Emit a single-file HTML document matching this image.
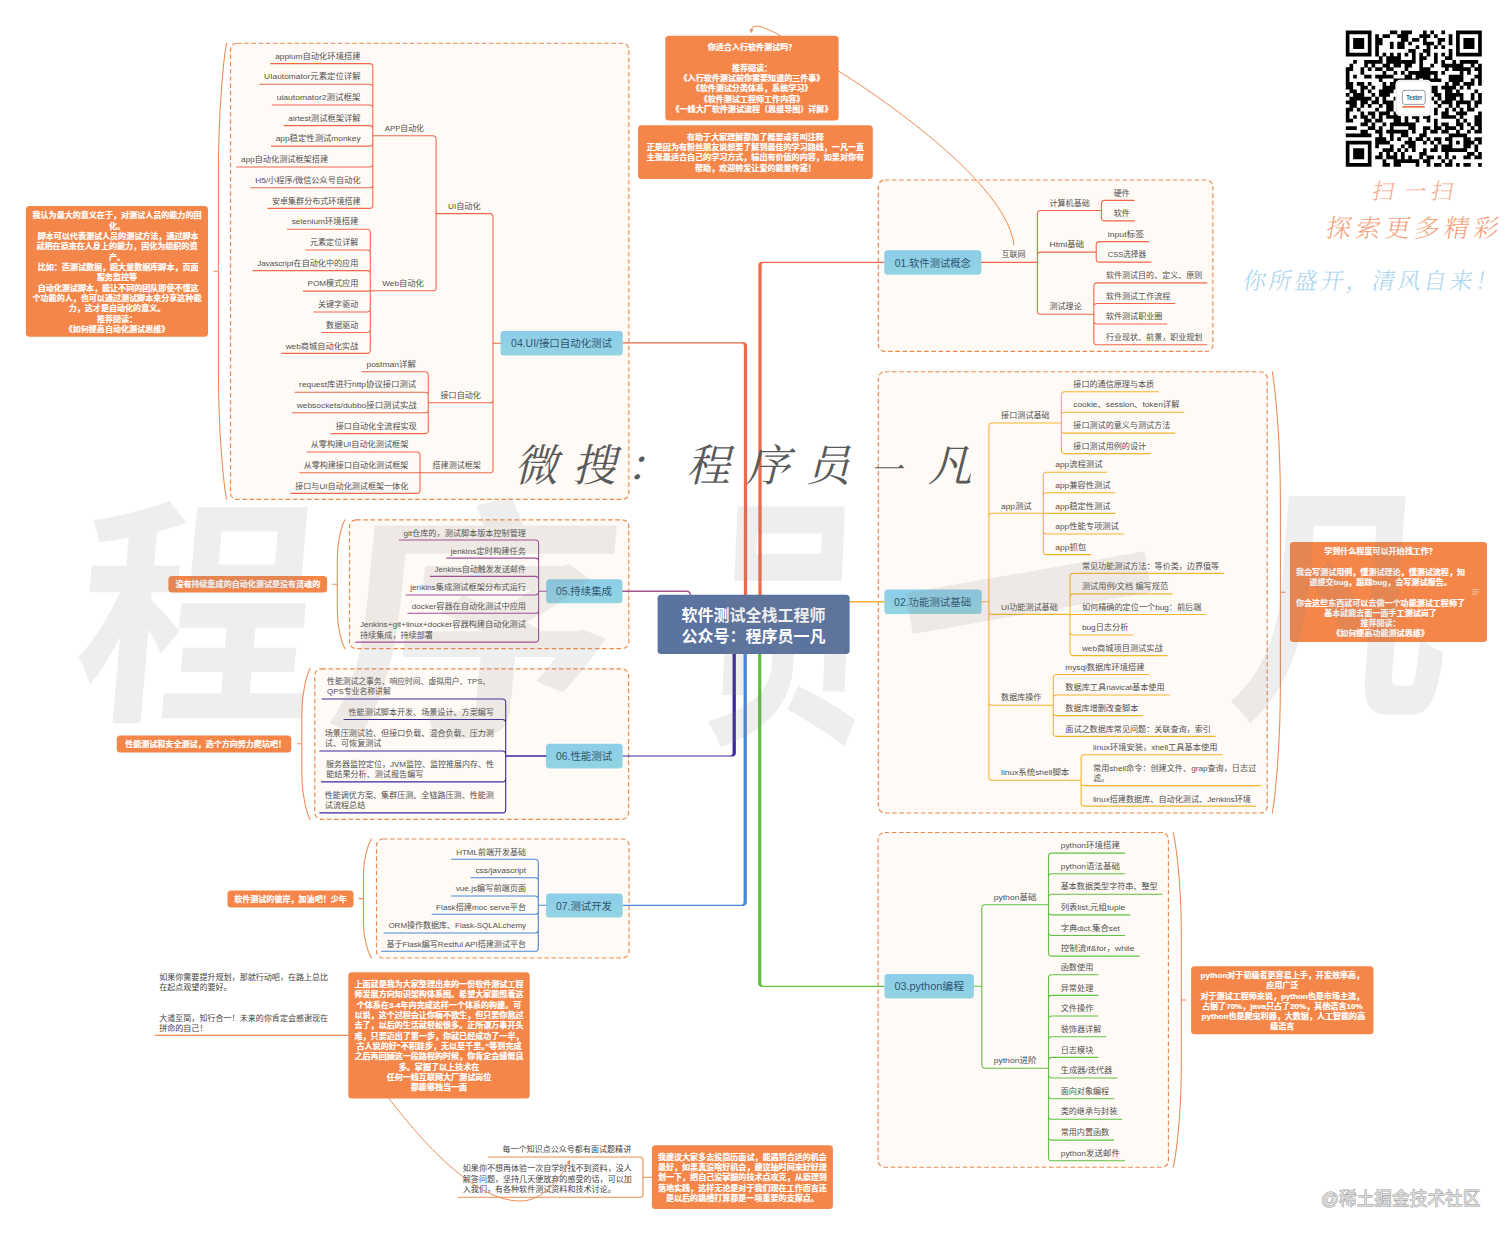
<!DOCTYPE html>
<html lang="zh-CN">
<head>
<meta charset="utf-8">
<title>软件测试全栈工程师 思维导图</title>
<style>
html,body{margin:0;padding:0;background:#fff;}
body{width:1512px;height:1240px;overflow:hidden;}
svg{display:block;font-family:"Liberation Sans","Noto Sans CJK SC",sans-serif;}
text{white-space:pre;}
</style>
</head>
<body>
<svg width="1512" height="1240" viewBox="0 0 1512 1240" font-size="8.1" fill="#505050" stroke-linecap="round" stroke-linejoin="round">
<defs><linearGradient id="tb" x1="0" y1="0" x2="0" y2="1"><stop offset="0" stop-color="#8ccde9"/><stop offset="1" stop-color="#93d4e2"/></linearGradient></defs>
<rect width="1512" height="1240" fill="#fff"/>
<rect x="230.5" y="43.2" width="398.4" height="456.2" rx="6.5" fill="#fffaf5" stroke="#e98a4e" stroke-width="1.15" stroke-dasharray="4.6 2.6" stroke-linecap="butt"/>
<rect x="878.3" y="180.0" width="334.6" height="171.4" rx="6.5" fill="#fffaf5" stroke="#e98a4e" stroke-width="1.15" stroke-dasharray="4.6 2.6" stroke-linecap="butt"/>
<rect x="878.3" y="371.7" width="388.9" height="441.3" rx="6.5" fill="#fffaf5" stroke="#e98a4e" stroke-width="1.15" stroke-dasharray="4.6 2.6" stroke-linecap="butt"/>
<rect x="878.1" y="832.5" width="290.3" height="334.7" rx="6.5" fill="#fffaf5" stroke="#e98a4e" stroke-width="1.15" stroke-dasharray="4.6 2.6" stroke-linecap="butt"/>
<rect x="349.5" y="519.8" width="279.3" height="128.8" rx="6.5" fill="#fffaf5" stroke="#e98a4e" stroke-width="1.15" stroke-dasharray="4.6 2.6" stroke-linecap="butt"/>
<rect x="314.8" y="668.8" width="313.8" height="150.5" rx="6.5" fill="#fffaf5" stroke="#e98a4e" stroke-width="1.15" stroke-dasharray="4.6 2.6" stroke-linecap="butt"/>
<rect x="376.5" y="839.0" width="252.6" height="119.0" rx="6.5" fill="#fffaf5" stroke="#e98a4e" stroke-width="1.15" stroke-dasharray="4.6 2.6" stroke-linecap="butt"/>
<path d="M226.5 43.2C223.7 58.8 218.4 108.2 218.4 173.2V369.4C218.4 434.4 223.7 483.8 226.5 499.4M218.4 271.3h-4.5" stroke="#ee8d55" stroke-width="1.1" fill="none"/>
<path d="M1272.3 371.7C1275.1 387.3 1280.4 436.7 1280.4 501.7V683.0C1280.4 748.0 1275.1 797.4 1272.3 813.0M1280.4 592.2h4.5" stroke="#ee8d55" stroke-width="1.1" fill="none"/>
<path d="M1173.2 832.5C1176.0 844.5 1181.3 882.7 1181.3 932.9V1066.8C1181.3 1117.0 1176.0 1155.2 1173.2 1167.2M1181.3 1000.0h4.5" stroke="#ee8d55" stroke-width="1.1" fill="none"/>
<path d="M345.0 519.8C342.3 524.4 337.3 539.1 337.3 558.4V610.0C337.3 629.3 342.3 644.0 345.0 648.6M337.3 584.2h-4.5" stroke="#ee8d55" stroke-width="1.1" fill="none"/>
<path d="M310.0 668.8C307.1 674.2 301.8 691.4 301.8 713.9V774.1C301.8 796.7 307.1 813.9 310.0 819.3M301.8 743.8h-4.5" stroke="#ee8d55" stroke-width="1.1" fill="none"/>
<path d="M371.5 839.0C368.7 843.3 363.4 856.9 363.4 874.7V922.3C363.4 940.1 368.7 953.7 371.5 958.0M363.4 898.6h-4.5" stroke="#ee8d55" stroke-width="1.1" fill="none"/>
<path d="M758.35 596.0L758.35 265.60Q758.35 261.78 762.15 261.78L884.4 261.78L884.4 263.02L763.85 263.02Q761.65 263.02 761.65 265.20L761.65 596.0Z" fill="#f1694c"/>
<path d="M747.15 596.0L747.15 346.00Q747.15 342.18 743.35 342.18L622.8 342.18L622.8 343.42L741.65 343.42Q743.85 343.42 743.85 345.60L743.85 596.0Z" fill="#f1694c"/>
<path d="M735.85 653.0L735.85 752.80Q735.85 756.62 732.05 756.62L622.6 756.62L622.6 755.38L730.35 755.38Q732.55 755.38 732.55 753.20L732.55 653.0Z" fill="#3b2a9e"/>
<path d="M746.85 653.0L746.85 902.10Q746.85 905.92 743.05 905.92L622.7 905.92L622.7 904.68L741.35 904.68Q743.55 904.68 743.55 902.50L743.55 653.0Z" fill="#4a86d6"/>
<path d="M758.05 653.0L758.05 983.10Q758.05 986.92 761.85 986.92L884.5 986.92L884.5 985.68L763.55 985.68Q761.35 985.68 761.35 983.50L761.35 653.0Z" fill="#5fc140"/>
<path d="M622.4 591.3H686.5Q690.5 591.3 690.5 596" stroke="#a2558f" stroke-width="1.4" fill="none"/>
<path d="M849.0 601.7H884.4" stroke="#f6b52f" stroke-width="1.5" fill="none"/>
<rect x="657.6" y="594.8" width="192" height="59.3" rx="3.5" fill="#5a739f"/>
<g font-weight="bold" fill="#fff" text-anchor="middle" font-size="16"><text x="753.4" y="620.9">软件测试全栈工程师</text><text x="753.4" y="641.5">公众号：程序员一凡</text></g>
<rect x="500.5" y="331.1" width="122.3" height="24.5" rx="3.5" fill="url(#tb)"/><text x="511.1" y="347.4" font-size="10.6" fill="#2f5672" textLength="100.9" lengthAdjust="spacingAndGlyphs">04.UI/接口自动化测试</text>
<text x="275.2" y="58.7" textLength="85.4" lengthAdjust="spacingAndGlyphs">appium自动化环境搭建</text>
<text x="264.1" y="79.3" textLength="96.5" lengthAdjust="spacingAndGlyphs">UIautomator元素定位详解</text>
<text x="276.7" y="100.1" textLength="83.9" lengthAdjust="spacingAndGlyphs">uiautomator2测试框架</text>
<text x="288.3" y="120.7" textLength="72.3" lengthAdjust="spacingAndGlyphs">airtest测试框架详解</text>
<text x="275.7" y="141.2" textLength="84.9" lengthAdjust="spacingAndGlyphs">app稳定性测试monkey</text>
<text x="241.1" y="162.1" textLength="87.0" lengthAdjust="spacingAndGlyphs">app自动化测试框架搭建</text>
<text x="255.3" y="182.9" textLength="105.3" lengthAdjust="spacingAndGlyphs">H5/小程序/微信公众号自动化</text>
<text x="271.9" y="203.5" textLength="88.7" lengthAdjust="spacingAndGlyphs">安卓集群分布式环境搭建</text>
<path d="M270.5 63.6H369.4Q372.8 63.6 372.8 67.0V135.8M259.7 84.2H369.4Q372.8 84.2 372.8 87.6V135.8M272.2 105.0H369.4Q372.8 105.0 372.8 108.4V135.8M283.9 125.6H369.4Q372.8 125.6 372.8 129.0V135.8M271.4 146.1H369.4Q372.8 146.1 372.8 142.7V135.8M236.7 167.0H369.4Q372.8 167.0 372.8 163.6V135.8M251.0 187.8H369.4Q372.8 187.8 372.8 184.4V135.8M267.8 208.4H369.4Q372.8 208.4 372.8 205.0V135.8" stroke="#f1694c" stroke-width="1.1" fill="none"/>
<text x="291.7" y="224.3" textLength="66.6" lengthAdjust="spacingAndGlyphs">selenium环境搭建</text>
<text x="310.0" y="245.1" textLength="48.3" lengthAdjust="spacingAndGlyphs">元素定位详解</text>
<text x="257.2" y="265.7" textLength="101.1" lengthAdjust="spacingAndGlyphs">Javascript在自动化中的应用</text>
<text x="307.5" y="286.2" textLength="50.8" lengthAdjust="spacingAndGlyphs">POM模式应用</text>
<text x="318.0" y="307.1" textLength="40.3" lengthAdjust="spacingAndGlyphs">关键字驱动</text>
<text x="326.1" y="327.6" textLength="32.2" lengthAdjust="spacingAndGlyphs">数据驱动</text>
<text x="285.7" y="348.5" textLength="72.6" lengthAdjust="spacingAndGlyphs">web商城自动化实战</text>
<path d="M287.5 229.2H366.9Q370.3 229.2 370.3 232.6V290.8M305.8 250.0H366.9Q370.3 250.0 370.3 253.4V290.8M253.0 270.6H366.9Q370.3 270.6 370.3 274.0V290.8M303.3 291.1H370.3M313.9 312.0H366.9Q370.3 312.0 370.3 308.6V290.8M322.0 332.5H366.9Q370.3 332.5 370.3 329.1V290.8M281.7 353.4H366.9Q370.3 353.4 370.3 350.0V290.8" stroke="#f1694c" stroke-width="1.1" fill="none"/>
<text x="366.4" y="366.8" textLength="49.7" lengthAdjust="spacingAndGlyphs">postman详解</text>
<text x="299.1" y="387.3" textLength="117.0" lengthAdjust="spacingAndGlyphs">request库进行http协议接口测试</text>
<text x="296.7" y="407.9" textLength="120.0" lengthAdjust="spacingAndGlyphs">websockets/dubbo接口测试实战</text>
<text x="335.7" y="428.7" textLength="81.0" lengthAdjust="spacingAndGlyphs">接口自动化全流程实现</text>
<path d="M362.2 371.7H424.9Q428.3 371.7 428.3 375.1V402.8M295.0 392.2H424.9Q428.3 392.2 428.3 395.6V402.8M292.5 412.8H424.9Q428.3 412.8 428.3 409.4V402.8M331.0 433.6H424.9Q428.3 433.6 428.3 430.2V402.8" stroke="#f1694c" stroke-width="1.1" fill="none"/>
<text x="310.7" y="447.1" textLength="97.6" lengthAdjust="spacingAndGlyphs">从零构建UI自动化测试框架</text>
<text x="303.7" y="467.9" textLength="104.6" lengthAdjust="spacingAndGlyphs">从零构建接口自动化测试框架</text>
<text x="295.2" y="488.5" textLength="113.1" lengthAdjust="spacingAndGlyphs">接口与UI自动化测试框架一体化</text>
<path d="M307.0 452.0H416.6Q420.0 452.0 420.0 455.4V472.8M299.7 472.8H420.0M290.8 493.4H416.6Q420.0 493.4 420.0 490.0V472.8" stroke="#f1694c" stroke-width="1.1" fill="none"/>
<text x="384.7" y="130.7" textLength="39.2" lengthAdjust="spacingAndGlyphs">APP自动化</text>
<text x="382.2" y="285.9" textLength="41.7" lengthAdjust="spacingAndGlyphs">Web自动化</text>
<text x="448.0" y="208.5" textLength="32.6" lengthAdjust="spacingAndGlyphs">UI自动化</text>
<text x="440.5" y="397.9" textLength="40.4" lengthAdjust="spacingAndGlyphs">接口自动化</text>
<text x="432.5" y="467.9" textLength="48.4" lengthAdjust="spacingAndGlyphs">搭建测试框架</text>
<path d="M372.8 135.8H432.7Q436.1 135.8 436.1 139.2V213.6M370.3 290.8H432.7Q436.1 290.8 436.1 287.4V213.6" stroke="#f1694c" stroke-width="1.1" fill="none"/>
<path d="M436.1 213.6H489.6Q493.0 213.6 493.0 217.0V343.3M428.3 402.8H489.6Q493.0 402.8 493.0 399.4V343.3M420.0 472.8H489.6Q493.0 472.8 493.0 469.4V343.3" stroke="#f1694c" stroke-width="1.1" fill="none"/>
<path d="M493.0 343.3H500.5" stroke="#f1694c" stroke-width="1.1" fill="none"/>
<rect x="884.3" y="250.2" width="97.1" height="24.6" rx="3.5" fill="url(#tb)"/><text x="894.7" y="266.5" font-size="10.6" fill="#2f5672" textLength="76.2" lengthAdjust="spacingAndGlyphs">01.软件测试概念</text>
<text x="1001.4" y="257.4" textLength="24.1" lengthAdjust="spacingAndGlyphs">互联网</text>
<path d="M981.4 262.4H1037.4" stroke="#f1694c" stroke-width="1.1" fill="none"/>
<text x="1049.5" y="205.5" textLength="40.3" lengthAdjust="spacingAndGlyphs">计算机基础</text>
<text x="1049.5" y="246.8" textLength="34.6" lengthAdjust="spacingAndGlyphs">Html基础</text>
<text x="1049.5" y="309.3" textLength="32.2" lengthAdjust="spacingAndGlyphs">测试理论</text>
<path d="M1101.4 210.5H1040.8Q1037.4 210.5 1037.4 213.9V262.4M1096.2 252.1H1040.8Q1037.4 252.1 1037.4 255.5V262.4M1093.8 314.3H1040.8Q1037.4 314.3 1037.4 310.9V262.4" stroke="#f1694c" stroke-width="1.1" fill="none"/>
<text x="1113.7" y="195.5" textLength="16.1" lengthAdjust="spacingAndGlyphs">硬件</text>
<text x="1113.7" y="216.0" textLength="16.1" lengthAdjust="spacingAndGlyphs">软件</text>
<path d="M1134.3 200.4H1104.8Q1101.4 200.4 1101.4 203.8V210.5M1134.3 220.9H1104.8Q1101.4 220.9 1101.4 217.5V210.5" stroke="#f1694c" stroke-width="1.1" fill="none"/>
<text x="1107.7" y="236.7" textLength="36.4" lengthAdjust="spacingAndGlyphs">input标签</text>
<text x="1107.7" y="257.2" textLength="38.3" lengthAdjust="spacingAndGlyphs">CSS选择器</text>
<path d="M1148.6 241.6H1099.6Q1096.2 241.6 1096.2 245.0V252.1M1151.0 262.1H1099.6Q1096.2 262.1 1096.2 258.7V252.1" stroke="#f1694c" stroke-width="1.1" fill="none"/>
<text x="1105.9" y="278.0" textLength="96.5" lengthAdjust="spacingAndGlyphs">软件测试目的、定义、原则</text>
<text x="1105.9" y="298.6" textLength="64.4" lengthAdjust="spacingAndGlyphs">软件测试工作流程</text>
<text x="1105.9" y="319.1" textLength="56.5" lengthAdjust="spacingAndGlyphs">软件测试职业圈</text>
<text x="1105.9" y="339.9" textLength="96.5" lengthAdjust="spacingAndGlyphs">行业现状、前景，职业规划</text>
<path d="M1206.9 282.9H1097.2Q1093.8 282.9 1093.8 286.3V314.3M1174.8 303.5H1097.2Q1093.8 303.5 1093.8 306.9V314.3M1166.9 324.0H1097.2Q1093.8 324.0 1093.8 320.6V314.3M1206.9 344.8H1097.2Q1093.8 344.8 1093.8 341.4V314.3" stroke="#f1694c" stroke-width="1.1" fill="none"/>
<rect x="884.4" y="589.4" width="97.3" height="24.5" rx="3.5" fill="url(#tb)"/><text x="894.1" y="605.7" font-size="10.6" fill="#2f5672" textLength="77.0" lengthAdjust="spacingAndGlyphs">02.功能测试基础</text>
<path d="M981.7 601.7H988.9" stroke="#f6b52f" stroke-width="1.1" fill="none"/>
<text x="1001.1" y="417.6" textLength="48.6" lengthAdjust="spacingAndGlyphs">接口测试基础</text>
<text x="1001.1" y="508.5" textLength="30.6" lengthAdjust="spacingAndGlyphs">app测试</text>
<text x="1001.1" y="609.6" textLength="56.7" lengthAdjust="spacingAndGlyphs">UI功能测试基础</text>
<text x="1001.1" y="700.4" textLength="40.3" lengthAdjust="spacingAndGlyphs">数据库操作</text>
<text x="1001.1" y="775.4" textLength="68.1" lengthAdjust="spacingAndGlyphs">linux系统shell脚本</text>
<path d="M1061.4 423.0H992.3Q988.9 423.0 988.9 426.4V601.7M1043.3 513.3H992.3Q988.9 513.3 988.9 516.7V601.7M1070.0 614.4H992.3Q988.9 614.4 988.9 611.0V601.7M1053.3 705.3H992.3Q988.9 705.3 988.9 701.9V601.7M1081.1 780.3H992.3Q988.9 780.3 988.9 776.9V601.7" stroke="#f6b52f" stroke-width="1.1" fill="none"/>
<text x="1073.3" y="386.8" textLength="80.9" lengthAdjust="spacingAndGlyphs">接口的通信原理与本质</text>
<text x="1073.3" y="407.3" textLength="106.2" lengthAdjust="spacingAndGlyphs">cookie、session、token详解</text>
<text x="1073.3" y="428.2" textLength="97.0" lengthAdjust="spacingAndGlyphs">接口测试的意义与测试方法</text>
<text x="1073.3" y="448.7" textLength="72.8" lengthAdjust="spacingAndGlyphs">接口测试用例的设计</text>
<path d="M1158.3 391.7H1064.8Q1061.4 391.7 1061.4 395.1V423.0M1183.9 412.2H1064.8Q1061.4 412.2 1061.4 415.6V423.0M1174.7 433.1H1064.8Q1061.4 433.1 1061.4 429.7V423.0M1150.6 453.6H1064.8Q1061.4 453.6 1061.4 450.2V423.0" stroke="#f6b52f" stroke-width="1.1" fill="none"/>
<text x="1055.3" y="467.3" textLength="47.2" lengthAdjust="spacingAndGlyphs">app流程测试</text>
<text x="1055.3" y="487.9" textLength="55.3" lengthAdjust="spacingAndGlyphs">app兼容性测试</text>
<text x="1055.3" y="508.5" textLength="55.3" lengthAdjust="spacingAndGlyphs">app稳定性测试</text>
<text x="1055.3" y="529.1" textLength="63.6" lengthAdjust="spacingAndGlyphs">app性能专项测试</text>
<text x="1055.3" y="549.7" textLength="31.0" lengthAdjust="spacingAndGlyphs">app抓包</text>
<path d="M1106.7 472.2H1046.7Q1043.3 472.2 1043.3 475.6V513.3M1115.0 492.8H1046.7Q1043.3 492.8 1043.3 496.2V513.3M1115.0 513.4H1043.3M1123.3 534.0H1046.7Q1043.3 534.0 1043.3 530.6V513.3M1090.8 554.6H1046.7Q1043.3 554.6 1043.3 551.2V513.3" stroke="#f6b52f" stroke-width="1.1" fill="none"/>
<text x="1081.9" y="568.5" textLength="137.3" lengthAdjust="spacingAndGlyphs">常见功能测试方法：等价类，边界值等</text>
<text x="1081.9" y="589.0" textLength="86.2" lengthAdjust="spacingAndGlyphs">测试用例/文档 编写规范</text>
<text x="1081.9" y="609.6" textLength="119.5" lengthAdjust="spacingAndGlyphs">如何精确的定位一个bug：前后端</text>
<text x="1081.9" y="630.1" textLength="46.7" lengthAdjust="spacingAndGlyphs">bug日志分析</text>
<text x="1081.9" y="650.7" textLength="80.9" lengthAdjust="spacingAndGlyphs">web商城项目测试实战</text>
<path d="M1223.6 573.4H1073.4Q1070.0 573.4 1070.0 576.8V614.4M1172.2 593.9H1073.4Q1070.0 593.9 1070.0 597.3V614.4M1205.6 614.5H1070.0M1133.0 635.0H1073.4Q1070.0 635.0 1070.0 631.6V614.4M1167.2 655.6H1073.4Q1070.0 655.6 1070.0 652.2V614.4" stroke="#f6b52f" stroke-width="1.1" fill="none"/>
<text x="1065.3" y="669.6" textLength="79.2" lengthAdjust="spacingAndGlyphs">mysql数据库环境搭建</text>
<text x="1065.3" y="690.1" textLength="99.4" lengthAdjust="spacingAndGlyphs">数据库工具navicat基本使用</text>
<text x="1065.3" y="710.7" textLength="73.0" lengthAdjust="spacingAndGlyphs">数据库增删改查脚本</text>
<text x="1065.3" y="731.5" textLength="145.6" lengthAdjust="spacingAndGlyphs">面试之数据库常见问题：关联查询，索引</text>
<path d="M1148.6 674.5H1056.7Q1053.3 674.5 1053.3 677.9V705.3M1169.4 695.0H1056.7Q1053.3 695.0 1053.3 698.4V705.3M1142.5 715.6H1056.7Q1053.3 715.6 1053.3 712.2V705.3M1215.3 736.4H1056.7Q1053.3 736.4 1053.3 733.0V705.3" stroke="#f6b52f" stroke-width="1.1" fill="none"/>
<text x="1093.0" y="749.9" textLength="124.5" lengthAdjust="spacingAndGlyphs">linux环境安装，xhell工具基本使用</text>
<text x="1093.0" y="770.7" textLength="163.3" lengthAdjust="spacingAndGlyphs">常用shell命令：创建文件、grap查询，日志过</text>
<text x="1093.0" y="780.9">滤。</text>
<text x="1093.0" y="801.5" textLength="157.9" lengthAdjust="spacingAndGlyphs">linux搭建数据库、自动化测试、Jenkins环境</text>
<path d="M1222.2 754.7H1084.5Q1081.1 754.7 1081.1 758.1V780.3M1260.8 785.6H1084.5Q1081.1 785.6 1081.1 782.2V780.3M1255.6 806.1H1084.5Q1081.1 806.1 1081.1 802.7V780.3" stroke="#f6b52f" stroke-width="1.1" fill="none"/>
<rect x="884.5" y="974.1" width="89.4" height="24.4" rx="3.5" fill="url(#tb)"/><text x="894.4" y="990.3" font-size="10.6" fill="#2f5672" textLength="69.7" lengthAdjust="spacingAndGlyphs">03.python编程</text>
<path d="M973.9 986.3H981.8" stroke="#5fc140" stroke-width="1.1" fill="none"/>
<text x="993.7" y="899.9" textLength="42.9" lengthAdjust="spacingAndGlyphs">python基础</text>
<text x="993.7" y="1063.1" textLength="42.9" lengthAdjust="spacingAndGlyphs">python进阶</text>
<path d="M1048.5 904.8H985.2Q981.8 904.8 981.8 908.2V986.3M1048.5 1068.2H985.2Q981.8 1068.2 981.8 1064.8V986.3" stroke="#5fc140" stroke-width="1.1" fill="none"/>
<text x="1060.7" y="848.2" textLength="59.2" lengthAdjust="spacingAndGlyphs">python环境搭建</text>
<text x="1060.7" y="868.8" textLength="59.2" lengthAdjust="spacingAndGlyphs">python语法基础</text>
<text x="1060.7" y="889.4" textLength="97.0" lengthAdjust="spacingAndGlyphs">基本数据类型字符串、整型</text>
<text x="1060.7" y="910.0" textLength="64.5" lengthAdjust="spacingAndGlyphs">列表list,元组tuple</text>
<text x="1060.7" y="930.6" textLength="59.2" lengthAdjust="spacingAndGlyphs">字典dict,集合set</text>
<text x="1060.7" y="951.2" textLength="73.8" lengthAdjust="spacingAndGlyphs">控制流if&amp;for，while</text>
<path d="M1124.6 853.1H1051.9Q1048.5 853.1 1048.5 856.5V904.8M1124.6 873.7H1051.9Q1048.5 873.7 1048.5 877.1V904.8M1162.3 894.3H1051.9Q1048.5 894.3 1048.5 897.7V904.8M1129.8 914.9H1051.9Q1048.5 914.9 1048.5 911.5V904.8M1124.6 935.5H1051.9Q1048.5 935.5 1048.5 932.1V904.8M1139.0 956.1H1051.9Q1048.5 956.1 1048.5 952.7V904.8" stroke="#5fc140" stroke-width="1.1" fill="none"/>
<text x="1060.7" y="969.9" textLength="32.6" lengthAdjust="spacingAndGlyphs">函数使用</text>
<text x="1060.7" y="990.5" textLength="32.6" lengthAdjust="spacingAndGlyphs">异常处理</text>
<text x="1060.7" y="1011.1" textLength="32.6" lengthAdjust="spacingAndGlyphs">文件操作</text>
<text x="1060.7" y="1031.8" textLength="40.6" lengthAdjust="spacingAndGlyphs">装饰器详解</text>
<text x="1060.7" y="1052.5" textLength="32.6" lengthAdjust="spacingAndGlyphs">日志模块</text>
<text x="1060.7" y="1073.1" textLength="51.6" lengthAdjust="spacingAndGlyphs">生成器/迭代器</text>
<text x="1060.7" y="1093.8" textLength="48.5" lengthAdjust="spacingAndGlyphs">面向对象编程</text>
<text x="1060.7" y="1114.4" textLength="56.6" lengthAdjust="spacingAndGlyphs">类的继承与封装</text>
<text x="1060.7" y="1135.2" textLength="48.5" lengthAdjust="spacingAndGlyphs">常用内置函数</text>
<text x="1060.7" y="1155.9" textLength="59.2" lengthAdjust="spacingAndGlyphs">python发送邮件</text>
<path d="M1097.9 974.8H1051.9Q1048.5 974.8 1048.5 978.2V1068.2M1097.9 995.4H1051.9Q1048.5 995.4 1048.5 998.8V1068.2M1097.9 1016.0H1051.9Q1048.5 1016.0 1048.5 1019.4V1068.2M1105.7 1036.7H1051.9Q1048.5 1036.7 1048.5 1040.1V1068.2M1097.9 1057.4H1051.9Q1048.5 1057.4 1048.5 1060.8V1068.2M1117.0 1078.0H1051.9Q1048.5 1078.0 1048.5 1074.6V1068.2M1113.8 1098.7H1051.9Q1048.5 1098.7 1048.5 1095.3V1068.2M1121.7 1119.3H1051.9Q1048.5 1119.3 1048.5 1115.9V1068.2M1113.8 1140.1H1051.9Q1048.5 1140.1 1048.5 1136.7V1068.2M1124.6 1160.8H1051.9Q1048.5 1160.8 1048.5 1157.4V1068.2" stroke="#5fc140" stroke-width="1.1" fill="none"/>
<rect x="546.2" y="579.3" width="76.2" height="24.0" rx="3.5" fill="url(#tb)"/><text x="555.9" y="595.3" font-size="10.6" fill="#2f5672" textLength="56.1" lengthAdjust="spacingAndGlyphs">05.持续集成</text>
<path d="M538.6 591.3H546.2" stroke="#a24c97" stroke-width="1.1" fill="none"/>
<text x="403.5" y="535.5" textLength="122.5" lengthAdjust="spacingAndGlyphs">git仓库的，测试脚本版本控制管理</text>
<text x="450.7" y="553.6" textLength="75.3" lengthAdjust="spacingAndGlyphs">jenkins定时构建任务</text>
<text x="434.5" y="571.9" textLength="91.5" lengthAdjust="spacingAndGlyphs">Jenkins自动触发发送邮件</text>
<text x="410.2" y="590.3" textLength="115.8" lengthAdjust="spacingAndGlyphs">jenkins集成测试框架分布式运行</text>
<text x="411.8" y="608.6" textLength="114.2" lengthAdjust="spacingAndGlyphs">docker容器在自动化测试中应用</text>
<text x="359.9" y="626.9" textLength="166.1" lengthAdjust="spacingAndGlyphs">Jenkins+git+linux+docker容器构建自动化测试</text>
<text x="360.0" y="637.7">持续集成，持续部署</text>
<path d="M399.5 540.0H535.2Q538.6 540.0 538.6 543.4V591.3M446.7 558.1H535.2Q538.6 558.1 538.6 561.5V591.3M430.5 576.4H535.2Q538.6 576.4 538.6 579.8V591.3M406.2 595.0H535.2Q538.6 595.0 538.6 591.6V591.3M407.9 613.3H535.2Q538.6 613.3 538.6 609.9V591.3M355.7 642.1H535.2Q538.6 642.1 538.6 638.7V591.3" stroke="#a24c97" stroke-width="1.1" fill="none"/>
<rect x="546.0" y="743.8" width="76.6" height="24.8" rx="3.5" fill="url(#tb)"/><text x="555.9" y="760.2" font-size="10.6" fill="#2f5672" textLength="56.3" lengthAdjust="spacingAndGlyphs">06.性能测试</text>
<path d="M505.7 756.0H546.0" stroke="#3b2a9e" stroke-width="1.4" fill="none"/>
<text x="327.1" y="683.9" textLength="163.2" lengthAdjust="spacingAndGlyphs">性能测试之事务、响应时间、虚拟用户、TPS、</text>
<text x="348.5" y="715.0" textLength="145.4" lengthAdjust="spacingAndGlyphs">性能测试脚本开发、场景设计、方案编写</text>
<text x="324.7" y="735.8" textLength="169.2" lengthAdjust="spacingAndGlyphs">场景压测试验、但接口负载、混合负载、压力测</text>
<text x="326.1" y="766.9" textLength="167.8" lengthAdjust="spacingAndGlyphs">服务器监控定位，JVM监控、监控推展内存、性</text>
<text x="324.7" y="797.9" textLength="169.2" lengthAdjust="spacingAndGlyphs">性能调优方案、集群压测、全链路压测、性能测</text>
<text x="327.1" y="694.3" textLength="63.7" lengthAdjust="spacingAndGlyphs">QPS专业名称讲解</text>
<text x="324.8" y="746.2">试、可恢复测试</text>
<text x="326.2" y="776.9">能结果分析、测试报告编写</text>
<text x="324.8" y="808.1">试流程总结</text>
<path d="M322.1 699.0H502.3Q505.7 699.0 505.7 702.4V756.0M344.0 719.5H502.3Q505.7 719.5 505.7 722.9V756.0M319.8 751.0H502.3Q505.7 751.0 505.7 754.4V756.0M321.4 781.9H502.3Q505.7 781.9 505.7 778.5V756.0M319.8 812.9H502.3Q505.7 812.9 505.7 809.5V756.0" stroke="#3b2a9e" stroke-width="1.1" fill="none"/>
<rect x="546.1" y="893.4" width="76.6" height="24.1" rx="3.5" fill="url(#tb)"/><text x="556.0" y="909.5" font-size="10.6" fill="#2f5672" textLength="55.9" lengthAdjust="spacingAndGlyphs">07.测试开发</text>
<path d="M538.3 905.3H546.1" stroke="#4a86d6" stroke-width="1.1" fill="none"/>
<text x="456.2" y="854.7" textLength="69.9" lengthAdjust="spacingAndGlyphs">HTML前端开发基础</text>
<text x="475.4" y="873.0" textLength="50.7" lengthAdjust="spacingAndGlyphs">css/javascript</text>
<text x="455.7" y="891.3" textLength="70.4" lengthAdjust="spacingAndGlyphs">vue.js编写前端页面</text>
<text x="436.1" y="909.7" textLength="90.0" lengthAdjust="spacingAndGlyphs">Flask搭建moc serve平台</text>
<text x="388.4" y="928.0" textLength="137.7" lengthAdjust="spacingAndGlyphs">ORM操作数据库、Flask-SQLALchemy</text>
<text x="386.4" y="946.6" textLength="139.7" lengthAdjust="spacingAndGlyphs">基于Flask编写Restful API搭建测试平台</text>
<path d="M451.6 859.3H534.9Q538.3 859.3 538.3 862.7V905.3M471.0 877.7H534.9Q538.3 877.7 538.3 881.1V905.3M451.6 896.0H534.9Q538.3 896.0 538.3 899.4V905.3M432.1 914.3H534.9Q538.3 914.3 538.3 910.9V905.3M384.0 933.0H534.9Q538.3 933.0 538.3 929.6V905.3M381.7 951.3H534.9Q538.3 951.3 538.3 947.9V905.3" stroke="#4a86d6" stroke-width="1.1" fill="none"/>
<rect x="25.9" y="205.9" width="182.1" height="130.9" rx="3.5" fill="#f5864a"/><g font-weight="bold" fill="#fff" stroke="#fff" stroke-width="0.22" text-anchor="middle" font-size="8.05"><text x="117.0" y="218.2">我认为最大的意义在于，对测试人员的能力的固</text><text x="117.0" y="228.5">化。</text><text x="117.0" y="238.9"> 脚本可以代表测试人员的测试方法，通过脚本</text><text x="117.0" y="249.2">就把在原来在人身上的能力，固化为组织的资</text><text x="117.0" y="259.5">产。</text><text x="117.0" y="269.8"> 比如：造测试数据，跑大量数据库脚本，页面</text><text x="117.0" y="280.2">服务监控等</text><text x="117.0" y="290.5"> 自动化测试脚本，能让不同的团队即使不懂这</text><text x="117.0" y="300.8">个功能的人，也可以通过测试脚本来分享这种能</text><text x="117.0" y="311.2">力，这才是自动化的意义。</text><text x="117.0" y="321.5">推荐阅读：</text><text x="117.0" y="331.8">《如何提高自动化测试思维》</text></g>
<rect x="665.3" y="35.8" width="173.3" height="84.8" rx="3.5" fill="#f5864a"/><g font-weight="bold" fill="#fff" stroke="#fff" stroke-width="0.22" text-anchor="middle" font-size="8.05"><text x="752.0" y="49.8">你适合入行软件测试吗？</text><text x="752.0" y="70.7">推荐阅读：</text><text x="752.0" y="81.0">《入行软件测试前你需要知道的三件事》</text><text x="752.0" y="91.4">《软件测试分类体系，系统学习》</text><text x="752.0" y="101.8">《软件测试工程师工作内容》</text><text x="752.0" y="112.1">《一线大厂软件测试流程（思维导图）详解》</text></g>
<rect x="638.0" y="125.3" width="234.8" height="53.6" rx="3.5" fill="#f5864a"/><g font-weight="bold" fill="#fff" stroke="#fff" stroke-width="0.22" text-anchor="middle" font-size="8.05"><text x="755.4" y="139.8">有助于大家理解都加了概要或者叫注释</text><text x="755.4" y="150.1">正是因为有粉丝朋友说想要了解到最佳的学习路线，一凡一直</text><text x="755.4" y="160.4">主张最适合自己的学习方式，输出有价值的内容，如果对你有</text><text x="755.4" y="170.7">帮助，欢迎转发让爱的能量传递！</text></g>
<rect x="1289.9" y="542.1" width="197.1" height="100.0" rx="3.5" fill="#f5864a"/><g font-weight="bold" fill="#fff" stroke="#fff" stroke-width="0.22" text-anchor="middle" font-size="8.05"><text x="1380.5" y="554.0">学到什么程度可以开始找工作？</text><text x="1380.5" y="574.5">我会写测试用例，懂测试理论，懂测试流程，知</text><text x="1380.5" y="584.7">道提交bug，跟踪bug，会写测试报告。</text><text x="1380.5" y="605.7">你会这些东西就可以去做一个功能测试工程师了</text><text x="1380.5" y="615.9">基本就能去面一面手工测试岗了</text><text x="1380.5" y="626.3">推荐阅读：</text><text x="1380.5" y="636.3">《如何提高功能测试思维》</text></g>
<path d="M1472.5 589.5h6.5M1472.5 591.8h6.5M1472.5 594.1h4.5" stroke="#fbd0b6" stroke-width="0.8" fill="none"/>
<rect x="1191.1" y="966.2" width="182.4" height="68.1" rx="3.5" fill="#f5864a"/><g font-weight="bold" fill="#fff" stroke="#fff" stroke-width="0.22" text-anchor="middle" font-size="8.05"><text x="1282.3" y="978.0">python对于初级者更容易上手，开发效率高，</text><text x="1282.3" y="988.2">应用广泛</text><text x="1282.3" y="998.5">对于测试工程师来说，python也是市场主流，</text><text x="1282.3" y="1008.8">占据了70%，java只占了20%，其他语言10%</text><text x="1282.3" y="1019.1"> python也是爬虫利器，大数据，人工智能的高</text><text x="1282.3" y="1029.3">级语言</text></g>
<rect x="168.4" y="576.1" width="158.7" height="16.3" rx="3.5" fill="#f5864a"/><g font-weight="bold" fill="#fff" stroke="#fff" stroke-width="0.22" text-anchor="middle" font-size="8.05"><text x="247.8" y="587.3">没有持续集成的自动化测试是没有灵魂的</text></g>
<rect x="116.8" y="735.6" width="174.4" height="16.8" rx="3.5" fill="#f5864a"/><g font-weight="bold" fill="#fff" stroke="#fff" stroke-width="0.22" text-anchor="middle" font-size="8.05"><text x="205.6" y="746.9">性能测试和安全测试，选个方向努力爬坑吧！</text></g>
<rect x="227.5" y="890.5" width="126.0" height="16.9" rx="3.5" fill="#f5864a"/><g font-weight="bold" fill="#fff" stroke="#fff" stroke-width="0.22" text-anchor="middle" font-size="8.05"><text x="290.5" y="901.8">软件测试的彼岸，加油吧！少年</text></g>
<rect x="348.3" y="972.2" width="181.4" height="126.4" rx="3.5" fill="#f5864a"/><g font-weight="bold" fill="#fff" stroke="#fff" stroke-width="0.22" text-anchor="middle" font-size="8.05"><text x="439.0" y="986.8">上面就是我为大家整理出来的一份软件测试工程</text><text x="439.0" y="997.2">师发展方向知识架构体系图。希望大家能照着这</text><text x="439.0" y="1007.5">个体系在3-4年内完成这样一个体系的构建。可</text><text x="439.0" y="1017.9">以说，这个过程会让你痛不欲生，但只要你熬过</text><text x="439.0" y="1028.2">去了，以后的生活就轻松很多。正所谓万事开头</text><text x="439.0" y="1038.6">难，只要迈出了第一步，你就已经成功了一半，</text><text x="439.0" y="1049.0">古人说的好“不积跬步，无以至千里。”等到完成</text><text x="439.0" y="1059.3">之后再回顾这一段路程的时候，你肯定会感慨良</text><text x="439.0" y="1069.7">多。掌握了以上技术在</text><text x="439.0" y="1080.0">任何一线互联网大厂测试岗位</text><text x="439.0" y="1090.4">都能够独当一面</text></g>
<rect x="651.9" y="1145.2" width="181.0" height="63.8" rx="3.5" fill="#f5864a"/><g font-weight="bold" fill="#fff" stroke="#fff" stroke-width="0.22" text-anchor="middle" font-size="8.05"><text x="742.4" y="1159.6">我建议大家多去投简历面试，能遇到合适的机会</text><text x="742.4" y="1170.0">最好，如果真没啥好机会，建议抽时间来好好规</text><text x="742.4" y="1180.3">划一下，把自己没掌握的技术点攻克，从原理到</text><text x="742.4" y="1190.7">落地实践，这样无论是对于我们现在工作而言还</text><text x="742.4" y="1201.2">是以后的跳槽打算都是一项重要的支撑点。</text></g>
<text x="159.2" y="979.6" font-size="8.05" fill="#444">如果你需要提升规划，那就行动吧，在路上总比</text>
<text x="159.2" y="989.5" font-size="8.05" fill="#444">在起点观望的要好。</text>
<text x="159.2" y="1020.7" font-size="8.05" fill="#444">大道至简，知行合一！未来的你肯定会感谢现在</text>
<text x="159.2" y="1030.9" font-size="8.05" fill="#444">拼命的自己！</text>
<text x="462.8" y="1171.0" font-size="8.05" fill="#444">如果你不想再体验一次自学时找不到资料，没人</text>
<text x="462.8" y="1181.6" font-size="8.05" fill="#444">解答问题，坚持几天便放弃的感受的话，可以加</text>
<text x="462.8" y="1192.3" font-size="8.05" fill="#444">入我们，有各种软件测试资料和技术讨论。</text>
<text x="631.2" y="1151.9" text-anchor="end" font-size="8.05" fill="#444">每一个知识点公众号都有面试题精讲</text>
<path d="M155.3 1035.3H348.3" stroke="#ef8a50" stroke-width="1.2" fill="none"/>
<path d="M488.1 1157.0H639.6Q643.0 1157.0 643.0 1160.4V1177.3M458.3 1197.3H639.6Q643.0 1197.3 643.0 1193.9V1177.3" stroke="#ef8a50" stroke-width="1.1" fill="none"/>
<path d="M643.0 1177.3H651.9" stroke="#ef8a50" stroke-width="1.1" fill="none"/>
<path d="M1014 245C1008 190 905 113 838.6 71" stroke="#ef8a50" stroke-width="1.0" fill="none"/>
<path d="M780.5 35.8C770 30 761 25.6 755 26Q752 26.4 751.5 29.5" stroke="#ef8a50" stroke-width="1.0" fill="none"/>
<path d="M749.6 28.9L753.5 29.5L751.1 33.2z" fill="#ef8a50"/>
<path d="M389 1098.6C415 1132 470 1200 519 1201C540 1202 557 1183 568.5 1163.5" stroke="#ef8a50" stroke-width="1.0" fill="none"/>
<path d="M570.3 1159.5l-3.9 3.2 3.4 1.6z" fill="#ef8a50"/>
<g font-family="'Liberation Sans','Noto Sans CJK SC',sans-serif" font-weight="700" fill="#828282" fill-opacity="0.135"><text font-size="240" transform="translate(70 702) skewX(-5)">程</text><text font-size="255" transform="translate(325 716) scale(1.12 1) skewX(-5)">序</text><text font-size="265" transform="translate(699 721) scale(0.62 1) skewX(-4)">员</text><text font-size="260" font-weight="900" transform="translate(918 715) rotate(-10)">一</text><text font-size="235" transform="translate(1226 699) scale(0.93 1.07) skewX(-5)">凡</text></g>
<path d="M1345.80 30.60h25.73v3.73h-25.73zM1389.91 30.60h7.35v3.73h-7.35zM1400.94 30.60h11.03v3.73h-11.03zM1422.99 30.60h3.68v3.73h-3.68zM1430.34 30.60h3.68v3.73h-3.68zM1441.37 30.60h3.68v3.73h-3.68zM1456.07 30.60h25.73v3.73h-25.73zM1345.80 34.28h3.68v3.73h-3.68zM1367.85 34.28h3.68v3.73h-3.68zM1375.21 34.28h3.68v3.73h-3.68zM1382.56 34.28h7.35v3.73h-7.35zM1397.26 34.28h11.03v3.73h-11.03zM1419.31 34.28h11.03v3.73h-11.03zM1434.02 34.28h3.68v3.73h-3.68zM1448.72 34.28h3.68v3.73h-3.68zM1456.07 34.28h3.68v3.73h-3.68zM1478.12 34.28h3.68v3.73h-3.68zM1345.80 37.95h3.68v3.73h-3.68zM1353.15 37.95h11.03v3.73h-11.03zM1367.85 37.95h3.68v3.73h-3.68zM1375.21 37.95h7.35v3.73h-7.35zM1400.94 37.95h7.35v3.73h-7.35zM1411.96 37.95h7.35v3.73h-7.35zM1422.99 37.95h3.68v3.73h-3.68zM1437.69 37.95h7.35v3.73h-7.35zM1448.72 37.95h3.68v3.73h-3.68zM1456.07 37.95h3.68v3.73h-3.68zM1463.42 37.95h11.03v3.73h-11.03zM1478.12 37.95h3.68v3.73h-3.68zM1345.80 41.63h3.68v3.73h-3.68zM1353.15 41.63h11.03v3.73h-11.03zM1367.85 41.63h3.68v3.73h-3.68zM1375.21 41.63h7.35v3.73h-7.35zM1389.91 41.63h3.68v3.73h-3.68zM1397.26 41.63h7.35v3.73h-7.35zM1408.29 41.63h3.68v3.73h-3.68zM1422.99 41.63h11.03v3.73h-11.03zM1437.69 41.63h3.68v3.73h-3.68zM1448.72 41.63h3.68v3.73h-3.68zM1456.07 41.63h3.68v3.73h-3.68zM1463.42 41.63h11.03v3.73h-11.03zM1478.12 41.63h3.68v3.73h-3.68zM1345.80 45.30h3.68v3.73h-3.68zM1353.15 45.30h11.03v3.73h-11.03zM1367.85 45.30h3.68v3.73h-3.68zM1375.21 45.30h3.68v3.73h-3.68zM1389.91 45.30h3.68v3.73h-3.68zM1397.26 45.30h7.35v3.73h-7.35zM1415.64 45.30h3.68v3.73h-3.68zM1426.66 45.30h3.68v3.73h-3.68zM1434.02 45.30h3.68v3.73h-3.68zM1441.37 45.30h3.68v3.73h-3.68zM1456.07 45.30h3.68v3.73h-3.68zM1463.42 45.30h11.03v3.73h-11.03zM1478.12 45.30h3.68v3.73h-3.68zM1345.80 48.98h3.68v3.73h-3.68zM1367.85 48.98h3.68v3.73h-3.68zM1375.21 48.98h3.68v3.73h-3.68zM1408.29 48.98h7.35v3.73h-7.35zM1422.99 48.98h7.35v3.73h-7.35zM1448.72 48.98h3.68v3.73h-3.68zM1456.07 48.98h3.68v3.73h-3.68zM1478.12 48.98h3.68v3.73h-3.68zM1345.80 52.65h25.73v3.73h-25.73zM1375.21 52.65h3.68v3.73h-3.68zM1382.56 52.65h3.68v3.73h-3.68zM1389.91 52.65h3.68v3.73h-3.68zM1397.26 52.65h3.68v3.73h-3.68zM1404.61 52.65h3.68v3.73h-3.68zM1411.96 52.65h3.68v3.73h-3.68zM1419.31 52.65h3.68v3.73h-3.68zM1426.66 52.65h3.68v3.73h-3.68zM1434.02 52.65h3.68v3.73h-3.68zM1441.37 52.65h3.68v3.73h-3.68zM1448.72 52.65h3.68v3.73h-3.68zM1456.07 52.65h25.73v3.73h-25.73zM1378.88 56.33h3.68v3.73h-3.68zM1386.23 56.33h14.70v3.73h-14.70zM1411.96 56.33h3.68v3.73h-3.68zM1419.31 56.33h7.35v3.73h-7.35zM1434.02 56.33h3.68v3.73h-3.68zM1445.04 56.33h7.35v3.73h-7.35zM1353.15 60.01h3.68v3.73h-3.68zM1364.18 60.01h18.38v3.73h-18.38zM1386.23 60.01h29.41v3.73h-29.41zM1419.31 60.01h3.68v3.73h-3.68zM1434.02 60.01h3.68v3.73h-3.68zM1441.37 60.01h3.68v3.73h-3.68zM1452.39 60.01h3.68v3.73h-3.68zM1459.75 60.01h18.38v3.73h-18.38zM1349.48 63.68h3.68v3.73h-3.68zM1364.18 63.68h3.68v3.73h-3.68zM1371.53 63.68h3.68v3.73h-3.68zM1382.56 63.68h7.35v3.73h-7.35zM1393.58 63.68h7.35v3.73h-7.35zM1404.61 63.68h7.35v3.73h-7.35zM1419.31 63.68h3.68v3.73h-3.68zM1430.34 63.68h3.68v3.73h-3.68zM1441.37 63.68h22.05v3.73h-22.05zM1470.77 63.68h3.68v3.73h-3.68zM1478.12 63.68h3.68v3.73h-3.68zM1345.80 67.36h7.35v3.73h-7.35zM1360.50 67.36h3.68v3.73h-3.68zM1367.85 67.36h3.68v3.73h-3.68zM1375.21 67.36h7.35v3.73h-7.35zM1386.23 67.36h7.35v3.73h-7.35zM1404.61 67.36h3.68v3.73h-3.68zM1419.31 67.36h11.03v3.73h-11.03zM1445.04 67.36h3.68v3.73h-3.68zM1452.39 67.36h18.38v3.73h-18.38zM1474.45 67.36h7.35v3.73h-7.35zM1345.80 71.03h3.68v3.73h-3.68zM1360.50 71.03h3.68v3.73h-3.68zM1382.56 71.03h3.68v3.73h-3.68zM1393.58 71.03h3.68v3.73h-3.68zM1400.94 71.03h3.68v3.73h-3.68zM1408.29 71.03h29.41v3.73h-29.41zM1441.37 71.03h3.68v3.73h-3.68zM1459.75 71.03h3.68v3.73h-3.68zM1467.10 71.03h3.68v3.73h-3.68zM1478.12 71.03h3.68v3.73h-3.68zM1345.80 74.71h3.68v3.73h-3.68zM1353.15 74.71h3.68v3.73h-3.68zM1364.18 74.71h7.35v3.73h-7.35zM1375.21 74.71h18.38v3.73h-18.38zM1404.61 74.71h7.35v3.73h-7.35zM1415.64 74.71h14.70v3.73h-14.70zM1434.02 74.71h3.68v3.73h-3.68zM1448.72 74.71h14.70v3.73h-14.70zM1474.45 74.71h7.35v3.73h-7.35zM1345.80 78.38h3.68v3.73h-3.68zM1378.88 78.38h3.68v3.73h-3.68zM1393.58 78.38h25.73v3.73h-25.73zM1422.99 78.38h18.38v3.73h-18.38zM1448.72 78.38h14.70v3.73h-14.70zM1470.77 78.38h3.68v3.73h-3.68zM1478.12 78.38h3.68v3.73h-3.68zM1345.80 82.06h7.35v3.73h-7.35zM1356.83 82.06h7.35v3.73h-7.35zM1367.85 82.06h3.68v3.73h-3.68zM1382.56 82.06h3.68v3.73h-3.68zM1389.91 82.06h7.35v3.73h-7.35zM1445.04 82.06h3.68v3.73h-3.68zM1452.39 82.06h7.35v3.73h-7.35zM1463.42 82.06h11.03v3.73h-11.03zM1478.12 82.06h3.68v3.73h-3.68zM1345.80 85.74h7.35v3.73h-7.35zM1360.50 85.74h7.35v3.73h-7.35zM1371.53 85.74h3.68v3.73h-3.68zM1382.56 85.74h14.70v3.73h-14.70zM1430.34 85.74h7.35v3.73h-7.35zM1441.37 85.74h14.70v3.73h-14.70zM1459.75 85.74h3.68v3.73h-3.68zM1467.10 85.74h3.68v3.73h-3.68zM1349.48 89.41h7.35v3.73h-7.35zM1360.50 89.41h3.68v3.73h-3.68zM1367.85 89.41h3.68v3.73h-3.68zM1378.88 89.41h14.70v3.73h-14.70zM1430.34 89.41h7.35v3.73h-7.35zM1445.04 89.41h7.35v3.73h-7.35zM1456.07 89.41h3.68v3.73h-3.68zM1474.45 89.41h3.68v3.73h-3.68zM1345.80 93.09h3.68v3.73h-3.68zM1353.15 93.09h11.03v3.73h-11.03zM1371.53 93.09h3.68v3.73h-3.68zM1378.88 93.09h11.03v3.73h-11.03zM1434.02 93.09h7.35v3.73h-7.35zM1445.04 93.09h18.38v3.73h-18.38zM1470.77 93.09h3.68v3.73h-3.68zM1478.12 93.09h3.68v3.73h-3.68zM1349.48 96.76h22.05v3.73h-22.05zM1375.21 96.76h3.68v3.73h-3.68zM1382.56 96.76h3.68v3.73h-3.68zM1393.58 96.76h3.68v3.73h-3.68zM1430.34 96.76h3.68v3.73h-3.68zM1437.69 96.76h3.68v3.73h-3.68zM1445.04 96.76h11.03v3.73h-11.03zM1459.75 96.76h3.68v3.73h-3.68zM1470.77 96.76h3.68v3.73h-3.68zM1478.12 96.76h3.68v3.73h-3.68zM1345.80 100.44h11.03v3.73h-11.03zM1360.50 100.44h7.35v3.73h-7.35zM1371.53 100.44h7.35v3.73h-7.35zM1382.56 100.44h11.03v3.73h-11.03zM1434.02 100.44h3.68v3.73h-3.68zM1441.37 100.44h11.03v3.73h-11.03zM1456.07 100.44h14.70v3.73h-14.70zM1474.45 100.44h7.35v3.73h-7.35zM1349.48 104.11h7.35v3.73h-7.35zM1360.50 104.11h3.68v3.73h-3.68zM1367.85 104.11h3.68v3.73h-3.68zM1378.88 104.11h3.68v3.73h-3.68zM1386.23 104.11h7.35v3.73h-7.35zM1437.69 104.11h3.68v3.73h-3.68zM1448.72 104.11h3.68v3.73h-3.68zM1456.07 104.11h3.68v3.73h-3.68zM1467.10 104.11h3.68v3.73h-3.68zM1474.45 104.11h3.68v3.73h-3.68zM1345.80 107.79h7.35v3.73h-7.35zM1356.83 107.79h3.68v3.73h-3.68zM1375.21 107.79h3.68v3.73h-3.68zM1386.23 107.79h7.35v3.73h-7.35zM1434.02 107.79h3.68v3.73h-3.68zM1445.04 107.79h3.68v3.73h-3.68zM1452.39 107.79h3.68v3.73h-3.68zM1459.75 107.79h3.68v3.73h-3.68zM1467.10 107.79h7.35v3.73h-7.35zM1345.80 111.46h3.68v3.73h-3.68zM1360.50 111.46h3.68v3.73h-3.68zM1367.85 111.46h7.35v3.73h-7.35zM1378.88 111.46h11.03v3.73h-11.03zM1393.58 111.46h3.68v3.73h-3.68zM1434.02 111.46h3.68v3.73h-3.68zM1441.37 111.46h7.35v3.73h-7.35zM1456.07 111.46h11.03v3.73h-11.03zM1478.12 111.46h3.68v3.73h-3.68zM1345.80 115.14h3.68v3.73h-3.68zM1353.15 115.14h3.68v3.73h-3.68zM1360.50 115.14h7.35v3.73h-7.35zM1371.53 115.14h3.68v3.73h-3.68zM1378.88 115.14h3.68v3.73h-3.68zM1386.23 115.14h14.70v3.73h-14.70zM1404.61 115.14h3.68v3.73h-3.68zM1411.96 115.14h7.35v3.73h-7.35zM1422.99 115.14h7.35v3.73h-7.35zM1441.37 115.14h14.70v3.73h-14.70zM1459.75 115.14h3.68v3.73h-3.68zM1474.45 115.14h7.35v3.73h-7.35zM1345.80 118.82h7.35v3.73h-7.35zM1364.18 118.82h7.35v3.73h-7.35zM1375.21 118.82h7.35v3.73h-7.35zM1393.58 118.82h7.35v3.73h-7.35zM1404.61 118.82h3.68v3.73h-3.68zM1415.64 118.82h3.68v3.73h-3.68zM1426.66 118.82h3.68v3.73h-3.68zM1434.02 118.82h3.68v3.73h-3.68zM1456.07 118.82h3.68v3.73h-3.68zM1463.42 118.82h3.68v3.73h-3.68zM1474.45 118.82h7.35v3.73h-7.35zM1360.50 122.49h7.35v3.73h-7.35zM1371.53 122.49h3.68v3.73h-3.68zM1382.56 122.49h3.68v3.73h-3.68zM1389.91 122.49h25.73v3.73h-25.73zM1434.02 122.49h3.68v3.73h-3.68zM1441.37 122.49h7.35v3.73h-7.35zM1456.07 122.49h7.35v3.73h-7.35zM1467.10 122.49h3.68v3.73h-3.68zM1474.45 122.49h7.35v3.73h-7.35zM1345.80 126.17h11.03v3.73h-11.03zM1367.85 126.17h7.35v3.73h-7.35zM1378.88 126.17h3.68v3.73h-3.68zM1389.91 126.17h3.68v3.73h-3.68zM1408.29 126.17h7.35v3.73h-7.35zM1422.99 126.17h7.35v3.73h-7.35zM1434.02 126.17h7.35v3.73h-7.35zM1445.04 126.17h11.03v3.73h-11.03zM1459.75 126.17h3.68v3.73h-3.68zM1470.77 126.17h3.68v3.73h-3.68zM1478.12 126.17h3.68v3.73h-3.68zM1360.50 129.84h7.35v3.73h-7.35zM1375.21 129.84h7.35v3.73h-7.35zM1386.23 129.84h22.05v3.73h-22.05zM1411.96 129.84h3.68v3.73h-3.68zM1422.99 129.84h3.68v3.73h-3.68zM1430.34 129.84h7.35v3.73h-7.35zM1441.37 129.84h7.35v3.73h-7.35zM1456.07 129.84h3.68v3.73h-3.68zM1467.10 129.84h3.68v3.73h-3.68zM1474.45 129.84h7.35v3.73h-7.35zM1345.80 133.52h25.73v3.73h-25.73zM1378.88 133.52h3.68v3.73h-3.68zM1389.91 133.52h3.68v3.73h-3.68zM1400.94 133.52h7.35v3.73h-7.35zM1419.31 133.52h7.35v3.73h-7.35zM1448.72 133.52h18.38v3.73h-18.38zM1375.21 137.19h11.03v3.73h-11.03zM1389.91 137.19h3.68v3.73h-3.68zM1397.26 137.19h3.68v3.73h-3.68zM1408.29 137.19h3.68v3.73h-3.68zM1415.64 137.19h7.35v3.73h-7.35zM1426.66 137.19h3.68v3.73h-3.68zM1434.02 137.19h7.35v3.73h-7.35zM1445.04 137.19h7.35v3.73h-7.35zM1463.42 137.19h7.35v3.73h-7.35zM1474.45 137.19h7.35v3.73h-7.35zM1345.80 140.87h25.73v3.73h-25.73zM1375.21 140.87h14.70v3.73h-14.70zM1404.61 140.87h11.03v3.73h-11.03zM1422.99 140.87h3.68v3.73h-3.68zM1430.34 140.87h3.68v3.73h-3.68zM1437.69 140.87h3.68v3.73h-3.68zM1448.72 140.87h3.68v3.73h-3.68zM1456.07 140.87h3.68v3.73h-3.68zM1463.42 140.87h11.03v3.73h-11.03zM1478.12 140.87h3.68v3.73h-3.68zM1345.80 144.55h3.68v3.73h-3.68zM1367.85 144.55h3.68v3.73h-3.68zM1375.21 144.55h3.68v3.73h-3.68zM1389.91 144.55h3.68v3.73h-3.68zM1400.94 144.55h3.68v3.73h-3.68zM1408.29 144.55h7.35v3.73h-7.35zM1434.02 144.55h3.68v3.73h-3.68zM1441.37 144.55h11.03v3.73h-11.03zM1463.42 144.55h7.35v3.73h-7.35zM1474.45 144.55h3.68v3.73h-3.68zM1345.80 148.22h3.68v3.73h-3.68zM1353.15 148.22h11.03v3.73h-11.03zM1367.85 148.22h3.68v3.73h-3.68zM1382.56 148.22h11.03v3.73h-11.03zM1397.26 148.22h3.68v3.73h-3.68zM1404.61 148.22h3.68v3.73h-3.68zM1411.96 148.22h3.68v3.73h-3.68zM1422.99 148.22h3.68v3.73h-3.68zM1430.34 148.22h7.35v3.73h-7.35zM1441.37 148.22h25.73v3.73h-25.73zM1474.45 148.22h3.68v3.73h-3.68zM1345.80 151.90h3.68v3.73h-3.68zM1353.15 151.90h11.03v3.73h-11.03zM1367.85 151.90h3.68v3.73h-3.68zM1378.88 151.90h3.68v3.73h-3.68zM1386.23 151.90h3.68v3.73h-3.68zM1393.58 151.90h3.68v3.73h-3.68zM1400.94 151.90h3.68v3.73h-3.68zM1419.31 151.90h7.35v3.73h-7.35zM1445.04 151.90h3.68v3.73h-3.68zM1467.10 151.90h7.35v3.73h-7.35zM1478.12 151.90h3.68v3.73h-3.68zM1345.80 155.57h3.68v3.73h-3.68zM1353.15 155.57h11.03v3.73h-11.03zM1367.85 155.57h3.68v3.73h-3.68zM1375.21 155.57h7.35v3.73h-7.35zM1386.23 155.57h11.03v3.73h-11.03zM1400.94 155.57h3.68v3.73h-3.68zM1408.29 155.57h3.68v3.73h-3.68zM1419.31 155.57h3.68v3.73h-3.68zM1426.66 155.57h7.35v3.73h-7.35zM1437.69 155.57h3.68v3.73h-3.68zM1445.04 155.57h3.68v3.73h-3.68zM1452.39 155.57h3.68v3.73h-3.68zM1463.42 155.57h7.35v3.73h-7.35zM1474.45 155.57h7.35v3.73h-7.35zM1345.80 159.25h3.68v3.73h-3.68zM1367.85 159.25h3.68v3.73h-3.68zM1382.56 159.25h3.68v3.73h-3.68zM1393.58 159.25h25.73v3.73h-25.73zM1422.99 159.25h7.35v3.73h-7.35zM1441.37 159.25h3.68v3.73h-3.68zM1448.72 159.25h3.68v3.73h-3.68zM1345.80 162.92h25.73v3.73h-25.73zM1382.56 162.92h7.35v3.73h-7.35zM1393.58 162.92h7.35v3.73h-7.35zM1415.64 162.92h3.68v3.73h-3.68zM1426.66 162.92h3.68v3.73h-3.68zM1434.02 162.92h7.35v3.73h-7.35zM1445.04 162.92h7.35v3.73h-7.35zM1456.07 162.92h3.68v3.73h-3.68zM1463.42 162.92h7.35v3.73h-7.35zM1478.12 162.92h3.68v3.73h-3.68z" fill="#000"/>
<rect x="1395.4" y="79.8" width="36.2" height="36.4" rx="5" fill="#fff"/>
<rect x="1396.6" y="81" width="33.8" height="34" rx="4" fill="#fff" stroke="#dcdcdc" stroke-width="0.7"/>
<rect x="1402.4" y="90.4" width="22.8" height="14" rx="2.2" fill="#fff" stroke="#8c9099" stroke-width="0.9"/>
<text x="1406.2" y="99.7" font-size="7.6" font-weight="bold" fill="#2f6288" textLength="16" lengthAdjust="spacingAndGlyphs">Tester</text>
<path d="M1402.3 106.85H1424.8" stroke="#e8703d" stroke-width="1.6" stroke-linecap="butt"/>
<g font-family="'Liberation Serif','Noto Serif CJK SC','Noto Sans CJK SC',serif" font-weight="300"><text font-size="22" fill="#f6a988" transform="translate(1371 199) skewX(-10)" x="0 32 59">扫一扫</text><text font-size="25" fill="#f5a27b" transform="translate(1325 237) skewX(-10)" x="0 29.5 59 88.5 118 147.5">探索更多精彩</text><text font-size="23" fill="#a9d4ef" transform="translate(1242 289) skewX(-10)" x="0 25.8 51.6 77.4 103.2 129 154.8 180.6 206.4 232.2">你所盛开，清风自来！</text></g>
<g font-family="'Liberation Serif','Noto Serif CJK SC','Noto Sans CJK SC',serif" font-weight="400" fill="#5a5a5a" font-size="44"><text transform="translate(514 481) skewX(-14)" x="0 58 112 172 232 292 356 414">微搜：程序员<tspan font-size="32">一</tspan>凡</text></g>
<text x="1480.5" y="1204.9" text-anchor="end" font-size="17.7" fill="#dedede" stroke="#9a9a9a" stroke-width="0.9" paint-order="stroke" textLength="159.5" lengthAdjust="spacingAndGlyphs">@稀土掘金技术社区</text>
</svg>
</body>
</html>
